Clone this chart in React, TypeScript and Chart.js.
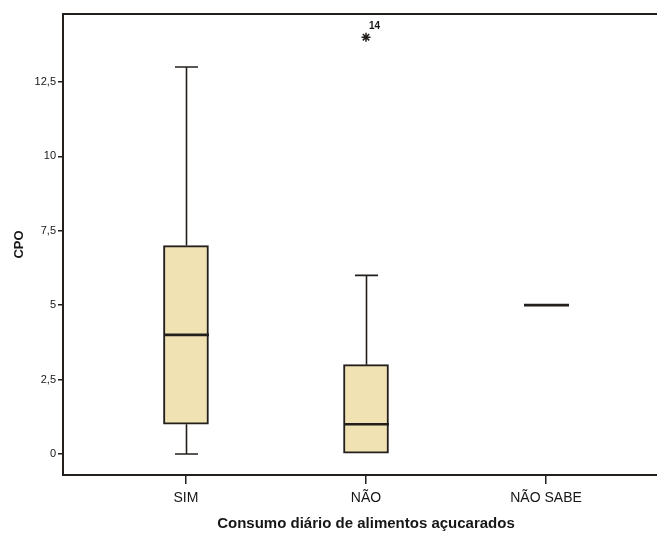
import { useEffect, useRef } from 'react';
import { Chart, registerables } from 'chart.js';

Chart.register(...registerables);

// Consumo diário de alimentos açucarados x CPO — five-number summaries per group
const categories = ['SIM', 'NÃO', 'NÃO SABE'];
const minValues = [0, 0, 5];
const q1Values = [1, 0, 5];
const medianValues = [4, 1, 5];
const q3Values = [7, 3, 5];
const maxValues = [13, 6, 5];

// extreme values (group index is 1-based on the x scale) with case numbers
const outlierGroups = [2];
const outlierValues = [14];
const outlierCases = ['14'];

const yTickValues = [0, 2.5, 5, 7.5, 10, 12.5];

const INK = '#231f1c';
const TEXT = '#161616';
const BOX_FILL = '#F1E2B4';
const BOX_WIDTH = 45;
const CAP_WIDTH = 23;
const FONT = 'Arial, "Liberation Sans", sans-serif';

const boxplotDecor = {
  id: 'boxplotDecor',
  afterDatasetsDraw(chart: any) {
    const { ctx, chartArea } = chart;
    const x = chart.scales.x;
    const y = chart.scales.y;
    ctx.save();
    ctx.strokeStyle = INK;
    ctx.lineCap = 'butt';

    // top frame line
    ctx.lineWidth = 2;
    ctx.beginPath();
    ctx.moveTo(chartArea.left - 1, chartArea.top);
    ctx.lineTo(chartArea.right, chartArea.top);
    ctx.stroke();

    categories.forEach((_, i) => {
      const cx = Math.round(x.getPixelForValue(i + 1)) + 0.5;
      const pMin = y.getPixelForValue(minValues[i]);
      const pQ1 = y.getPixelForValue(q1Values[i]);
      const pMed = y.getPixelForValue(medianValues[i]);
      const pQ3 = y.getPixelForValue(q3Values[i]);
      const pMax = y.getPixelForValue(maxValues[i]);

      ctx.lineWidth = 1.6;
      if (maxValues[i] > q3Values[i]) {
        ctx.beginPath();
        ctx.moveTo(cx, pQ3);
        ctx.lineTo(cx, pMax);
        ctx.moveTo(cx - CAP_WIDTH / 2, pMax);
        ctx.lineTo(cx + CAP_WIDTH / 2, pMax);
        ctx.stroke();
      }
      if (minValues[i] < q1Values[i]) {
        ctx.beginPath();
        ctx.moveTo(cx, pQ1);
        ctx.lineTo(cx, pMin);
        ctx.moveTo(cx - CAP_WIDTH / 2, pMin);
        ctx.lineTo(cx + CAP_WIDTH / 2, pMin);
        ctx.stroke();
      }

      // median
      ctx.lineWidth = 2.6;
      ctx.beginPath();
      ctx.moveTo(cx - BOX_WIDTH / 2, pMed);
      ctx.lineTo(cx + BOX_WIDTH / 2, pMed);
      ctx.stroke();
    });

    // case numbers next to extreme values
    ctx.fillStyle = TEXT;
    ctx.font = `bold 10px ${FONT}`;
    ctx.textAlign = 'left';
    ctx.textBaseline = 'middle';
    outlierGroups.forEach((g, i) => {
      const px = x.getPixelForValue(g);
      const py = y.getPixelForValue(outlierValues[i]);
      ctx.fillText(outlierCases[i], px + 3, py - 11);
    });
    ctx.restore();
  },
};

export default function App() {
  const canvasRef = useRef<HTMLCanvasElement | null>(null);

  useEffect(() => {
    if (!canvasRef.current) return;
    const chart = new Chart(canvasRef.current, {
      type: 'bar',
      data: {
        datasets: [
          {
            type: 'bar',
            data: categories.map((_, i) => ({ x: i + 1, y: [q1Values[i], q3Values[i]] })) as any,
            backgroundColor: BOX_FILL,
            borderColor: INK,
            borderWidth: 2,
            borderSkipped: false,
            barThickness: BOX_WIDTH,
            grouped: false,
          } as any,
          {
            type: 'scatter',
            data: outlierGroups.map((g, i) => ({ x: g, y: outlierValues[i] })),
            pointStyle: 'star',
            radius: 4.5,
            borderColor: INK,
            backgroundColor: INK,
            borderWidth: 1.5,
          } as any,
        ],
      },
      options: {
        animation: false,
        responsive: false,
        maintainAspectRatio: false,
        layout: { padding: { left: 0, top: 14, right: 11, bottom: 0 } },
        plugins: {
          legend: { display: false },
          tooltip: { enabled: false },
        },
        scales: {
          x: {
            type: 'linear',
            min: 0.317,
            max: 3.683,
            offset: false,
            afterBuildTicks: (scale: any) => {
              scale.ticks = categories.map((_, i) => ({ value: i + 1 }));
            },
            afterFit: (scale: any) => {
              scale.height = 58;
            },
            ticks: {
              autoSkip: false,
              maxRotation: 0,
              padding: 6,
              color: TEXT,
              font: { family: FONT, size: 14 },
              callback: (v: any) => categories[Number(v) - 1] ?? '',
            },
            grid: {
              drawOnChartArea: false,
              drawTicks: true,
              offset: false,
              tickLength: 9,
              color: INK,
              lineWidth: 1.5,
            },
            border: { display: true, color: INK, width: 2 },
            title: {
              display: true,
              text: 'Consumo diário de alimentos açucarados',
              color: TEXT,
              font: { family: FONT, size: 15, weight: 'bold' },
              padding: { top: 0, bottom: 0 },
            },
          },
          y: {
            type: 'linear',
            min: -0.706,
            max: 14.78,
            afterBuildTicks: (scale: any) => {
              scale.ticks = yTickValues.map((v) => ({ value: v }));
            },
            afterFit: (scale: any) => {
              scale.width = 63;
            },
            ticks: {
              padding: 2,
              color: TEXT,
              font: { family: FONT, size: 11 },
              callback: (v: any) => String(v).replace('.', ','),
            },
            grid: {
              drawOnChartArea: false,
              drawTicks: true,
              tickLength: 5,
              color: INK,
              lineWidth: 1.5,
            },
            border: { display: true, color: INK, width: 2 },
            title: {
              display: true,
              text: 'CPO',
              color: TEXT,
              font: { family: FONT, size: 13, weight: 'bold' },
              padding: { top: 12, bottom: 0 },
            },
          },
        },
      },
      plugins: [boxplotDecor],
    } as any);
    return () => chart.destroy();
  }, []);

  return (
    <div
      style={{
        position: 'fixed',
        left: 0,
        top: 0,
        width: 657,
        height: 533,
        overflow: 'hidden',
        background: '#ffffff',
      }}
    >
      <canvas ref={canvasRef} width={680} height={533} style={{ display: 'block' }} />
    </div>
  );
}
